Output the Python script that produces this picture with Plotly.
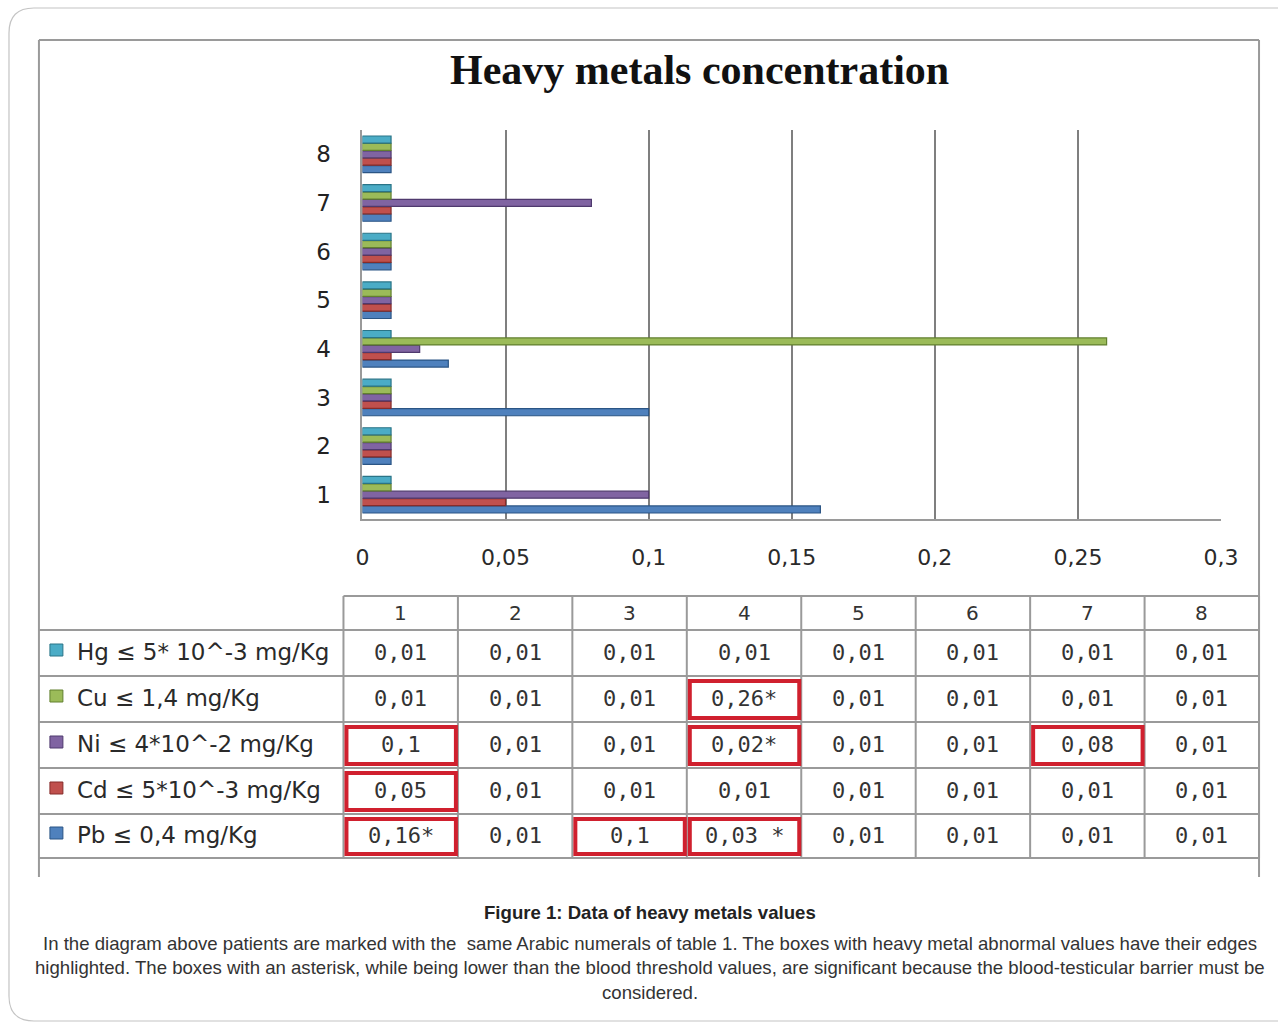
import plotly.graph_objects as go

W, H = 1279, 1026          # target picture size (design coordinates)
FIG_W = 1302               # rendered width (compensates the horizontal squash seen in the capture)

patients = ["1", "2", "3", "4", "5", "6", "7", "8"]
x_ticks = [0, 0.05, 0.1, 0.15, 0.2, 0.25, 0.3]

metals = ["Hg", "Cu", "Ni", "Cd", "Pb"]          # table order, top to bottom
metal_labels = [
    "Hg ≤ 5* 10^-3 mg/Kg",
    "Cu ≤ 1,4 mg/Kg",
    "Ni ≤ 4*10^-2 mg/Kg",
    "Cd ≤ 5*10^-3 mg/Kg",
    "Pb ≤ 0,4 mg/Kg",
]
hg = [0.01, 0.01, 0.01, 0.01, 0.01, 0.01, 0.01, 0.01]
cu = [0.01, 0.01, 0.01, 0.26, 0.01, 0.01, 0.01, 0.01]
ni = [0.1, 0.01, 0.01, 0.02, 0.01, 0.01, 0.08, 0.01]
cd = [0.05, 0.01, 0.01, 0.01, 0.01, 0.01, 0.01, 0.01]
pb = [0.16, 0.01, 0.1, 0.03, 0.01, 0.01, 0.01, 0.01]
values = {"Hg": hg, "Cu": cu, "Ni": ni, "Cd": cd, "Pb": pb}

highlighted = [("Ni", "1"), ("Cd", "1"), ("Pb", "1"), ("Pb", "3"),
               ("Cu", "4"), ("Ni", "4"), ("Pb", "4"), ("Ni", "7")]
starred = {("Pb", "1"): "*", ("Cu", "4"): "*", ("Ni", "4"): "*", ("Pb", "4"): " *"}

title = "Heavy metals concentration"
caption_title = "Figure 1: Data of heavy metals values"
caption_lines = [
    "In the diagram above patients are marked with the  same Arabic numerals of table 1. The boxes with heavy metal abnormal values have their edges",
    "highlighted. The boxes with an asterisk, while being lower than the blood threshold values, are significant because the blood-testicular barrier must be",
    "considered.",
]

colors = {"Hg": "#4bacc6", "Cu": "#9bbb59", "Ni": "#8064a2", "Cd": "#c0504d", "Pb": "#4f81bd"}
edges = {"Hg": "#2a7487", "Cu": "#62802f", "Ni": "#4f3a6e", "Cd": "#862c2a", "Pb": "#2b5585"}


def X(px):
    return px / W


def Y(py):
    return 1 - py / H


def fmt(v):
    return f"{v:g}".replace(".", ",")


fig = go.Figure()
for m in ["Pb", "Cd", "Ni", "Cu", "Hg"]:
    fig.add_trace(go.Bar(
        y=patients, x=values[m], orientation="h", name=m,
        marker=dict(color=colors[m], line=dict(color=edges[m], width=1.2)),
        showlegend=False,
    ))

shapes = []
annotations = []
grey = "#9a9a9a"

r = 25
path = (f"M {X(1279)},{Y(8)} L {X(8 + r)},{Y(8)} Q {X(8)},{Y(8)} {X(8)},{Y(8 + r)} "
        f"L {X(8)},{Y(1021 - r)} Q {X(8)},{Y(1021)} {X(8 + r)},{Y(1021)} L {X(1279)},{Y(1021)}")
shapes.append(dict(type="path", xref="paper", yref="paper", path=path,
                   line=dict(color="#c4c4c4", width=1.2)))

for (x0, y0, x1, y1) in [(38, 40, 1260, 40), (38, 40, 38, 877), (1260, 40, 1260, 877)]:
    shapes.append(dict(type="line", xref="paper", yref="paper",
                       x0=X(x0), y0=Y(y0), x1=X(x1), y1=Y(y1),
                       line=dict(color=grey, width=2)))

col_edges = [343 + i * (1260 - 343) / 8 for i in range(9)]
row_edges = [630, 676, 722, 768, 814, 858]
header_top = 596
shapes.append(dict(type="line", xref="paper", yref="paper", x0=X(343), x1=X(1260),
                   y0=Y(header_top), y1=Y(header_top), line=dict(color=grey, width=2)))
for ry in row_edges:
    shapes.append(dict(type="line", xref="paper", yref="paper", x0=X(38), x1=X(1260),
                       y0=Y(ry), y1=Y(ry), line=dict(color=grey, width=2)))
for cx in col_edges:
    shapes.append(dict(type="line", xref="paper", yref="paper", x0=X(cx), x1=X(cx),
                       y0=Y(header_top), y1=Y(row_edges[-1]), line=dict(color=grey, width=2)))

for j, p in enumerate(patients):
    cxm = (col_edges[j] + col_edges[j + 1]) / 2
    annotations.append(dict(x=X(cxm), y=Y((header_top + row_edges[0]) / 2), xref="paper", yref="paper",
                            text=p, showarrow=False, xanchor="center", yanchor="middle",
                            font=dict(family="DejaVu Sans", size=20, color="#333")))

for i, m in enumerate(metals):
    top, bot = row_edges[i], row_edges[i + 1]
    cy = (top + bot) / 2
    shapes.append(dict(type="rect", xref="paper", yref="paper",
                       x0=X(49), x1=X(62), y0=Y(cy - 9), y1=Y(cy + 3),
                       fillcolor=colors[m], line=dict(color=edges[m], width=1)))
    annotations.append(dict(x=X(74), y=Y(cy - 1), xref="paper", yref="paper", text=metal_labels[i],
                            showarrow=False, xanchor="left", yanchor="middle",
                            font=dict(family="DejaVu Sans", size=23, color="#2a2a2a")))
    for j, p in enumerate(patients):
        cxm = (col_edges[j] + col_edges[j + 1]) / 2
        txt = fmt(values[m][j]) + starred.get((m, p), "")
        annotations.append(dict(x=X(cxm), y=Y(cy - 1), xref="paper", yref="paper", text=txt,
                                showarrow=False, xanchor="center", yanchor="middle",
                                font=dict(family="DejaVu Sans Mono", size=22, color="#333")))

for (m, p) in highlighted:
    i = metals.index(m)
    j = patients.index(p)
    shapes.append(dict(type="rect", xref="paper", yref="paper",
                       x0=X(col_edges[j] + 3), x1=X(col_edges[j + 1] - 2),
                       y0=Y(row_edges[i] + 5), y1=Y(row_edges[i + 1] - 4),
                       line=dict(color="#d0202e", width=4)))

annotations.append(dict(x=X(700), y=Y(70), xref="paper", yref="paper", text=f"<b>{title}</b>",
                        showarrow=False, xanchor="center", yanchor="middle",
                        font=dict(family="Liberation Serif", size=42, color="#111")))

annotations.append(dict(x=X(650), y=Y(912), xref="paper", yref="paper", text=f"<b>{caption_title}</b>",
                        showarrow=False, xanchor="center", yanchor="middle",
                        font=dict(family="Liberation Sans", size=18.6, color="#222")))
for k, line in enumerate(caption_lines):
    annotations.append(dict(x=X(650), y=Y(943 + 24.5 * k), xref="paper", yref="paper", text=line,
                            showarrow=False, xanchor="center", yanchor="middle",
                            font=dict(family="Liberation Sans", size=18.6, color="#333")))

fig.update_layout(
    width=FIG_W, height=H, autosize=False,
    margin=dict(l=0, r=0, t=0, b=0, pad=0),
    paper_bgcolor="white", plot_bgcolor="white",
    separators=",.",
    barmode="group", bargap=0.24, bargroupgap=0.05,
    xaxis=dict(domain=[X(362), X(1222)], range=[0, 0.3], tickvals=x_ticks,
               showgrid=True, gridcolor="#7f7f7f", gridwidth=1.5, zeroline=False,
               showline=True, linecolor=grey, linewidth=2, ticks="",
               ticklabelstandoff=18,
               tickfont=dict(family="DejaVu Sans", size=22, color="#2a2a2a")),
    yaxis=dict(domain=[Y(519), Y(130)], type="category", categoryorder="array",
               categoryarray=patients, showgrid=False, zeroline=False,
               showline=True, linecolor=grey, linewidth=2, ticks="",
               ticklabelstandoff=25,
               tickfont=dict(family="DejaVu Sans", size=23, color="#222")),
    shapes=shapes, annotations=annotations,
)

fig.write_html("out.html", config={"responsive": False, "displayModeBar": False},
               post_script="document.body.style.margin='0';document.body.style.marginLeft='-6px';"
                           "document.body.style.overflow='hidden';")
